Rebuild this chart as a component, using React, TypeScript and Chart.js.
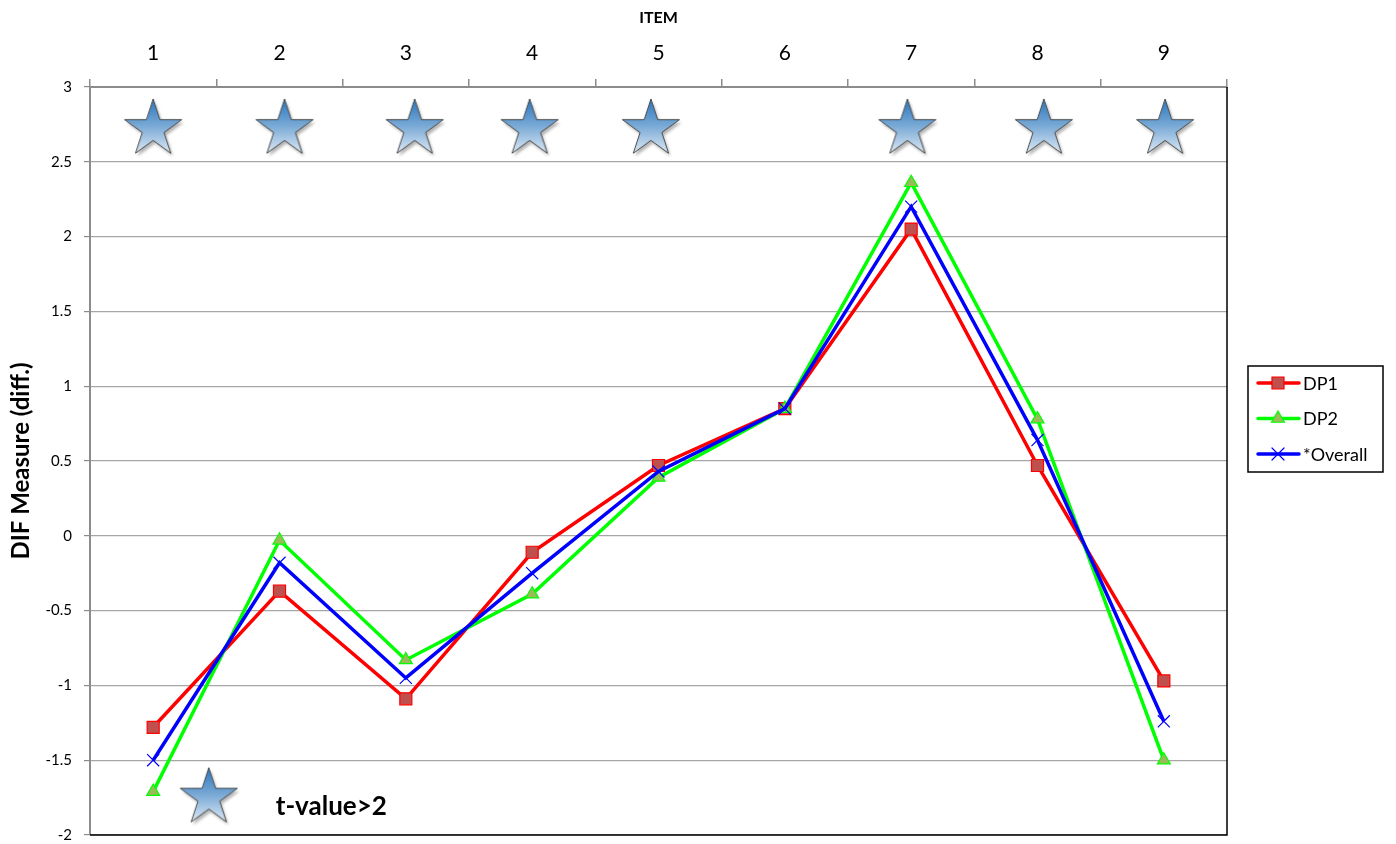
import React, { useEffect, useRef } from "react";
import { Chart, registerables } from "chart.js";

Chart.register(...registerables);

// Item labels along the top axis
const items = ["1", "2", "3", "4", "5", "6", "7", "8", "9"];

// DIF measures per item
const dp1 = [-1.28, -0.37, -1.09, -0.11, 0.47, 0.85, 2.05, 0.47, -0.97];
const dp2 = [-1.71, -0.03, -0.83, -0.39, 0.39, 0.85, 2.36, 0.78, -1.5];
const overall = [-1.5, -0.18, -0.95, -0.25, 0.43, 0.85, 2.2, 0.64, -1.24];

// Significance stars (item position on a continuous axis, height)
const starX = [0, 1.04, 2.07, 2.98, 3.94, 5.97, 7.05, 8.01];
const starY = 2.72;
// Key star and its caption
const keyStarX = 0.44;
const keyStarY = -1.75;
const keyText = "t-value>2";

const yTicks = { min: -2, max: 3, step: 0.5 };

const FONT = "Lato, 'Open Sans', 'Liberation Sans', sans-serif";

// Plot frame in page pixels
const FRAME = { left: 90, top: 87, right: 1227, bottom: 835 };

function makeStar(R: number): HTMLCanvasElement {
  const pad = 8;
  const size = Math.ceil(2 * (R + pad));
  const c = document.createElement("canvas");
  c.width = size;
  c.height = size;
  const ctx = c.getContext("2d")!;
  const cx = size / 2;
  const cy = size / 2;
  const path = () => {
    ctx.beginPath();
    for (let i = 0; i < 10; i++) {
      const a = -Math.PI / 2 + (i * Math.PI) / 5;
      const r = i % 2 ? R * 0.382 : R;
      const px = cx + r * Math.cos(a);
      const py = cy + r * Math.sin(a);
      if (i === 0) ctx.moveTo(px, py);
      else ctx.lineTo(px, py);
    }
    ctx.closePath();
  };
  const g = ctx.createLinearGradient(0, cy - R, 0, cy + R * 0.81);
  g.addColorStop(0, "#2a76bd");
  g.addColorStop(0.5, "#7aaad6");
  g.addColorStop(1, "#dde9f5");
  ctx.save();
  ctx.shadowColor = "rgba(0,0,0,0.3)";
  ctx.shadowOffsetX = 2;
  ctx.shadowOffsetY = 3;
  ctx.shadowBlur = 3;
  path();
  ctx.fillStyle = g;
  ctx.fill();
  ctx.restore();
  path();
  ctx.lineWidth = 1;
  ctx.strokeStyle = "#4a4a4a";
  ctx.stroke();
  return c;
}

const series = [
  { label: "DP1", data: dp1, color: "#ff0000", fill: "#c0504d", style: "rect", radius: 8.5, border: 1.2, order: 2 },
  { label: "DP2", data: dp2, color: "#00ff00", fill: "#9bbb59", style: "triangle", radius: 7.5, border: 1.2, order: 1 },
  { label: "*Overall", data: overall, color: "#0000ff", fill: "#0000ff", style: "crossRot", radius: 8.5, border: 1.2, order: 0 },
];

function drawMarker(ctx: CanvasRenderingContext2D, s: any, x: number, y: number) {
  ctx.save();
  ctx.lineWidth = s.border;
  ctx.strokeStyle = s.color;
  ctx.fillStyle = s.fill;
  ctx.beginPath();
  if (s.style === "rect") {
    const h = s.radius * Math.SQRT1_2;
    ctx.rect(x - h, y - h, 2 * h, 2 * h);
    ctx.fill();
    ctx.stroke();
  } else if (s.style === "triangle") {
    const r = s.radius;
    ctx.moveTo(x, y - r);
    ctx.lineTo(x + r * Math.sin(Math.PI / 3), y + r / 2);
    ctx.lineTo(x - r * Math.sin(Math.PI / 3), y + r / 2);
    ctx.closePath();
    ctx.fill();
    ctx.stroke();
  } else {
    const d = s.radius * Math.SQRT1_2;
    ctx.moveTo(x - d, y - d);
    ctx.lineTo(x + d, y + d);
    ctx.moveTo(x + d, y - d);
    ctx.lineTo(x - d, y + d);
    ctx.stroke();
  }
  ctx.restore();
}

const framePlugin = {
  id: "frameAndKey",
  afterDraw(chart: any) {
    const { ctx, chartArea } = chart;
    const { left, right, top, bottom } = chartArea;
    ctx.save();
    // right and bottom frame
    ctx.strokeStyle = "#000";
    ctx.lineWidth = 1.5;
    ctx.beginPath();
    ctx.moveTo(right, top);
    ctx.lineTo(right, bottom);
    ctx.lineTo(left, bottom);
    ctx.stroke();

    // caption next to the key star
    const xs = chart.scales.xs;
    const y = chart.scales.y;
    const kx = xs.getPixelForValue(keyStarX);
    const ky = y.getPixelForValue(keyStarY);
    ctx.fillStyle = "#000";
    ctx.font = `bold 26px ${FONT}`;
    ctx.textAlign = "left";
    ctx.textBaseline = "middle";
    ctx.fillText(keyText, kx + 67, ky + 9);

    // legend box
    const lx = 1248;
    const ly = 366;
    const lw = 135;
    const lh = 106;
    ctx.fillStyle = "#fff";
    ctx.fillRect(lx, ly, lw, lh);
    ctx.strokeStyle = "#000";
    ctx.lineWidth = 1.5;
    ctx.strokeRect(lx, ly, lw, lh);
    series.forEach((s, i) => {
      const ry = ly + 17 + i * 35.5;
      ctx.strokeStyle = s.color;
      ctx.lineWidth = 3.5;
      ctx.lineCap = "round";
      ctx.beginPath();
      ctx.moveTo(lx + 10, ry);
      ctx.lineTo(lx + 51, ry);
      ctx.stroke();
      drawMarker(ctx, s, lx + 30, ry);
      ctx.fillStyle = "#000";
      ctx.font = `18px ${FONT}`;
      ctx.textAlign = "left";
      ctx.textBaseline = "middle";
      ctx.fillText(s.label, lx + 55, ry + 1);
    });
    ctx.restore();
  },
};

export default function App() {
  const ref = useRef<HTMLCanvasElement>(null);

  useEffect(() => {
    const star = makeStar(30);
    const datasets: any[] = series.map((s) => ({
      type: "line",
      label: s.label,
      data: s.data,
      borderColor: s.color,
      borderWidth: 3.5,
      backgroundColor: s.fill,
      pointStyle: s.style,
      pointRadius: s.radius,
      pointBorderColor: s.color,
      pointBackgroundColor: s.fill,
      pointBorderWidth: s.border,
      tension: 0,
      fill: false,
      order: s.order,
      xAxisID: "x",
      yAxisID: "y",
    }));
    datasets.push({
      type: "line",
      label: "stars",
      data: starX.map((x) => ({ x, y: starY })),
      showLine: false,
      pointStyle: star,
      pointRadius: 30,
      order: 5,
      xAxisID: "xs",
      yAxisID: "y",
    });
    datasets.push({
      type: "line",
      label: "key",
      data: [{ x: keyStarX, y: keyStarY }],
      showLine: false,
      pointStyle: star,
      pointRadius: 30,
      order: 5,
      xAxisID: "xs",
      yAxisID: "y",
    });

    const W = 1396;
    const H = 844;
    const chart = new Chart(ref.current!, {
      type: "line",
      data: { labels: items, datasets },
      options: {
        animation: false,
        responsive: false,
        devicePixelRatio: 1,
        layout: {
          autoPadding: false,
          padding: { left: 0, top: 0, right: W - FRAME.right, bottom: H - FRAME.bottom },
        },
        plugins: {
          legend: { display: false },
          tooltip: { enabled: false },
        },
        scales: {
          x: {
            type: "category",
            position: "top",
            offset: true,
            grid: {
              offset: true,
              drawOnChartArea: false,
              drawTicks: true,
              tickLength: 8,
              color: "#8c8c8c",
              lineWidth: 1.5,
            },
            border: { display: true, color: "#8c8c8c", width: 2 },
            ticks: {
              color: "#000",
              font: { family: FONT, size: 21 },
              padding: 13,
              maxRotation: 0,
            },
            title: {
              display: true,
              text: "ITEM",
              color: "#000",
              font: { family: FONT, size: 16, weight: "bold" },
              padding: { top: 8, bottom: 0 },
            },
            afterFit: (scale: any) => {
              scale.height = FRAME.top;
            },
          },
          xs: {
            type: "linear",
            display: false,
            min: -0.5,
            max: 8.5,
          },
          y: {
            type: "linear",
            min: yTicks.min,
            max: yTicks.max,
            grid: {
              color: "#a6a6a6",
              lineWidth: 1.2,
              tickLength: 6,
              tickColor: "#8c8c8c",
            },
            border: { display: true, color: "#8c8c8c", width: 2 },
            ticks: {
              stepSize: yTicks.step,
              color: "#000",
              font: { family: FONT, size: 15 },
              padding: 12,
              callback: (v: any) => String(v),
            },
            title: {
              display: true,
              text: "DIF Measure (diff.)",
              color: "#000",
              font: { family: FONT, size: 24, weight: "bold" },
              padding: { top: 7, bottom: 0 },
            },
            afterFit: (scale: any) => {
              scale.width = FRAME.left;
              // keep the vertical axis from reserving extra room below
              scale.paddingBottom = 0;
              scale.paddingTop = 0;
            },
          },
        },
      } as any,
      plugins: [framePlugin],
    });
    return () => chart.destroy();
  }, []);

  return (
    <div style={{ position: "absolute", left: 0, top: 0, width: 1396, height: 844, background: "#fff" }}>
      <canvas ref={ref} width={1396} height={844} style={{ display: "block" }} />
    </div>
  );
}
